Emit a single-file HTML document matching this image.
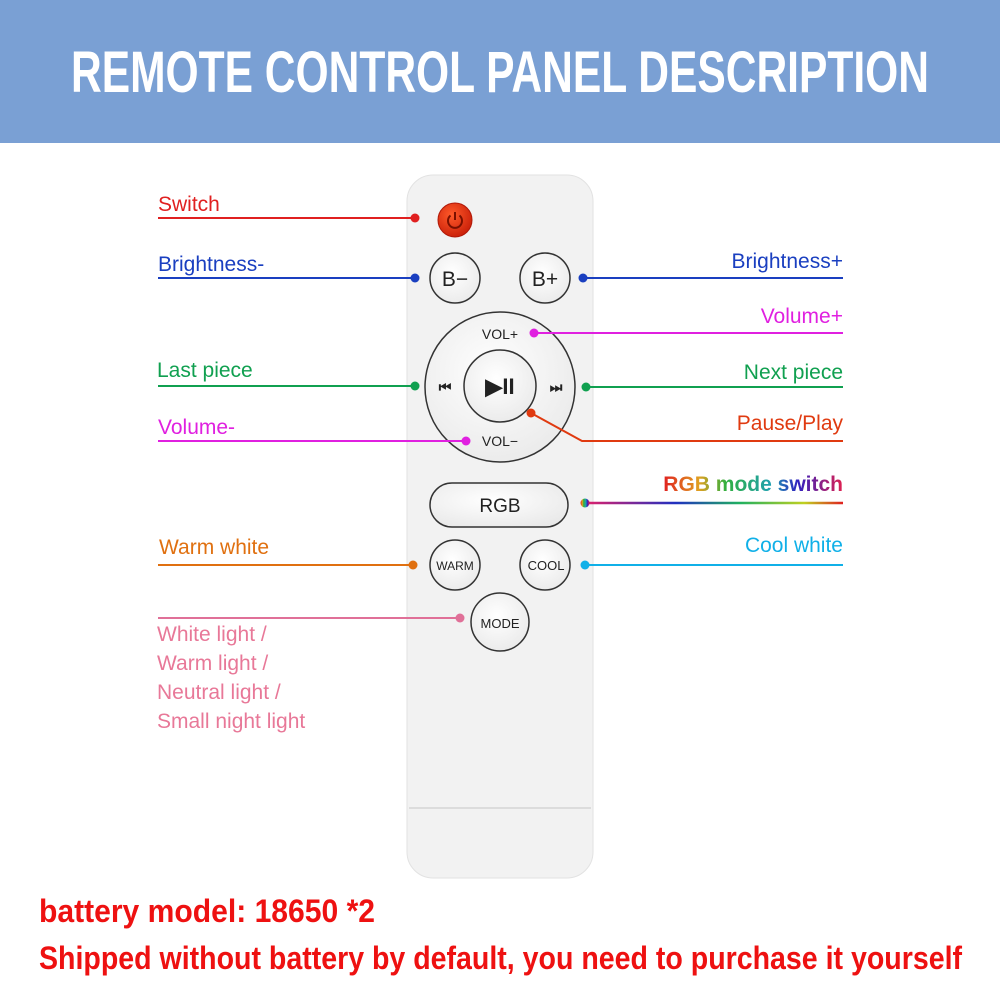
<!DOCTYPE html>
<html><head><meta charset="utf-8"><style>html,body{margin:0;padding:0;background:#fff}svg{display:block}</style></head><body>
<svg width="1000" height="1000" viewBox="0 0 1000 1000" xmlns="http://www.w3.org/2000/svg" font-family="Liberation Sans, sans-serif">
<defs>
<linearGradient id="rg" gradientUnits="userSpaceOnUse" x1="585" y1="0" x2="843" y2="0"><stop offset="0" stop-color="#e0206a"/><stop offset="0.35" stop-color="#2030c0"/><stop offset="0.6" stop-color="#20b060"/><stop offset="0.85" stop-color="#c0d020"/><stop offset="1" stop-color="#e02020"/></linearGradient>
<linearGradient id="tg" x1="0" x2="1"><stop offset="0" stop-color="#e02020"/><stop offset="0.2" stop-color="#e0a020"/><stop offset="0.35" stop-color="#30b040"/><stop offset="0.6" stop-color="#1fa0b0"/><stop offset="0.75" stop-color="#3020c0"/><stop offset="1" stop-color="#e02050"/></linearGradient>
<radialGradient id="btn" cx="0.45" cy="0.4" r="0.7"><stop offset="0" stop-color="#ffffff"/><stop offset="1" stop-color="#e8e8e8"/></radialGradient>
<radialGradient id="pw" cx="0.4" cy="0.35" r="0.7"><stop offset="0" stop-color="#ff5a2a"/><stop offset="1" stop-color="#c81e08"/></radialGradient>
</defs>
<rect x="0" y="0" width="1000" height="143" fill="#7aa0d4"/>
<text x="500" y="92" text-anchor="middle" fill="#fff" font-weight="bold" font-size="58" textLength="858" lengthAdjust="spacingAndGlyphs">REMOTE CONTROL PANEL DESCRIPTION</text>

<rect x="407" y="175" width="186" height="703" rx="26" fill="#f2f2f2" stroke="#e2e2e2"/>
<line x1="409" y1="808" x2="591" y2="808" stroke="#dcdcdc" stroke-width="2"/>
<circle cx="455" cy="220" r="17" fill="url(#pw)" stroke="#b01808"/>
<path d="M450.5 215.5 A7 7 0 1 0 459.5 215.5" fill="none" stroke="#7a1000" stroke-width="2"/><line x1="455" y1="212" x2="455" y2="220" stroke="#7a1000" stroke-width="2"/>
<g stroke="#333" stroke-width="1.5" fill="url(#btn)">
<circle cx="455" cy="278" r="25"/><circle cx="545" cy="278" r="25"/>
<circle cx="500" cy="387" r="75"/><circle cx="500" cy="386" r="36"/>
<rect x="430" y="483" width="138" height="44" rx="22"/>
<circle cx="455" cy="565" r="25"/><circle cx="545" cy="565" r="25"/><circle cx="500" cy="622" r="29"/>
</g>
<g fill="#222" text-anchor="middle">
<text x="455" y="286" font-size="21">B−</text><text x="545" y="286" font-size="21">B+</text>
<text x="500" y="339" font-size="14">VOL+</text><text x="500" y="446" font-size="14">VOL−</text>
<text x="500" y="512" font-size="19">RGB</text>
<text x="455" y="570" font-size="12">WARM</text><text x="546" y="570" font-size="13">COOL</text><text x="500" y="628" font-size="13">MODE</text>
<text x="500" y="394" font-size="22" font-weight="bold">▶II</text>
<text x="445" y="392" font-size="14" font-weight="bold">⏮</text><text x="556" y="392" font-size="14" font-weight="bold">⏭</text>
</g>

<g stroke-width="2" fill="none">
<line x1="158" y1="218" x2="415" y2="218" stroke="#e02020"/>
<line x1="158" y1="278" x2="415" y2="278" stroke="#1a3fc0"/>
<line x1="583" y1="278" x2="843" y2="278" stroke="#1a3fc0"/>
<line x1="534" y1="333" x2="843" y2="333" stroke="#e020e0"/>
<line x1="158" y1="386" x2="415" y2="386" stroke="#10a050"/>
<line x1="586" y1="387" x2="843" y2="387" stroke="#10a050"/>
<polyline points="531,413 582,441 843,441" stroke="#e03a10"/>
<line x1="158" y1="441" x2="466" y2="441" stroke="#e020e0"/>
<line x1="585" y1="503" x2="843" y2="503" stroke="url(#rg)" stroke-width="2.5"/>
<line x1="158" y1="565" x2="413" y2="565" stroke="#e07010"/>
<line x1="585" y1="565" x2="843" y2="565" stroke="#10b0e8"/>
<line x1="158" y1="618" x2="460" y2="618" stroke="#e07098"/>
</g>
<circle cx="415" cy="218" r="4.5" fill="#e02020"/>
<circle cx="415" cy="278" r="4.5" fill="#1a3fc0"/><circle cx="583" cy="278" r="4.5" fill="#1a3fc0"/>
<circle cx="534" cy="333" r="4.5" fill="#e020e0"/>
<circle cx="415" cy="386" r="4.5" fill="#10a050"/><circle cx="586" cy="387" r="4.5" fill="#10a050"/>
<circle cx="531" cy="413" r="4.5" fill="#e03a10"/><circle cx="466" cy="441" r="4.5" fill="#e020e0"/>
<circle cx="585" cy="503" r="4.5" fill="url(#tg)"/>
<circle cx="413" cy="565" r="4.5" fill="#e07010"/><circle cx="585" cy="565" r="4.5" fill="#10b0e8"/>
<circle cx="460" cy="618" r="4.5" fill="#e07098"/>

<g font-size="21">
<text x="158" y="211" fill="#e02020">Switch</text>
<text x="158" y="271" fill="#1a3fc0">Brightness-</text>
<text x="843" y="268" fill="#1a3fc0" text-anchor="end">Brightness+</text>
<text x="843" y="323" fill="#e020e0" text-anchor="end">Volume+</text>
<text x="157" y="377" fill="#10a050">Last piece</text>
<text x="843" y="379" fill="#10a050" text-anchor="end">Next piece</text>
<text x="843" y="430" fill="#e03a10" text-anchor="end">Pause/Play</text>
<text x="158" y="434" fill="#e020e0">Volume-</text>
<text x="843" y="491" fill="url(#tg)" text-anchor="end" font-weight="bold">RGB mode switch</text>
<text x="159" y="554" fill="#e07010">Warm white</text>
<text x="843" y="552" fill="#10b0e8" text-anchor="end">Cool white</text>
<g fill="#e87898"><text x="157" y="641">White light /</text><text x="157" y="670">Warm light /</text><text x="157" y="699">Neutral light /</text><text x="157" y="728">Small night light</text></g>
</g>
<g fill="#ee1111" font-weight="bold" font-size="32">
<text x="39" y="922" textLength="336" lengthAdjust="spacingAndGlyphs">battery model: 18650 *2</text>
<text x="39" y="969" textLength="923" lengthAdjust="spacingAndGlyphs">Shipped without battery by default, you need to purchase it yourself</text>
</g>
</svg>
</body></html>
